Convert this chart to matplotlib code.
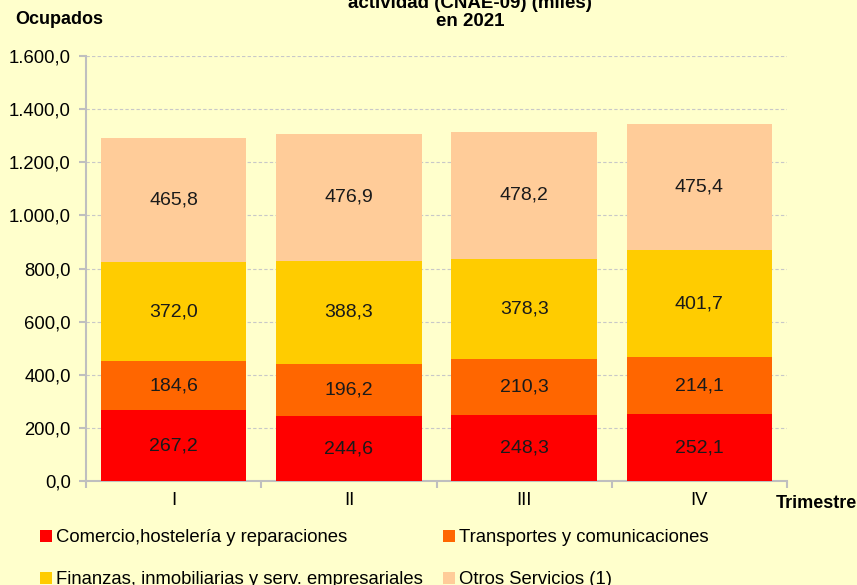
import matplotlib
matplotlib.use("Agg")
import matplotlib.pyplot as plt
from matplotlib.ticker import FuncFormatter
from matplotlib.patches import Patch
import numpy as np

plt.rcParams['font.family'] = ['Liberation Sans', 'DejaVu Sans']

trimestres = ["I", "II", "III", "IV"]
series = ["Comercio,hostelería y reparaciones",
          "Transportes y comunicaciones",
          "Finanzas, inmobiliarias y serv. empresariales",
          "Otros Servicios (1)"]
comercio = [267.2, 244.6, 248.3, 252.1]
transportes = [184.6, 196.2, 210.3, 214.1]
finanzas = [372.0, 388.3, 378.3, 401.7]
otros = [465.8, 476.9, 478.2, 475.4]
colores = ["#FF0000", "#FF6600", "#FFCC00", "#FFCC99"]

bg = "#FFFFCC"
fig = plt.figure(figsize=(8.57, 5.85), dpi=100, facecolor=bg)
ax = fig.add_axes([86 / 857, 1 - 481 / 585, (787 - 86) / 857, (481 - 56) / 585])
ax.set_facecolor(bg)

x = np.arange(len(trimestres))
bottom = np.zeros(len(trimestres))
for vals, col in zip([comercio, transportes, finanzas, otros], colores):
    vals = np.array(vals)
    ax.bar(x, vals, width=0.83, bottom=bottom, color=col, zorder=3)
    for xi, b, v in zip(x, bottom, vals):
        ax.text(xi, b + v / 2, f"{v:.1f}".replace(".", ","), ha="center", va="center",
                fontsize=14, color="#1a1a1a", zorder=4)
    bottom += vals

ax.set_xlim(-0.5, 3.5)
ax.set_ylim(0, 1600)
ax.set_yticks(np.arange(0, 1601, 200))
ax.yaxis.set_major_formatter(FuncFormatter(
    lambda v, p: f"{v:,.1f}".replace(",", "X").replace(".", ",").replace("X", ".")))
ax.grid(axis="y", color="#c8c8c8", linestyle=(0, (3, 2)), linewidth=0.8, zorder=0)

ax.set_xticks(x)
ax.set_xticklabels(trimestres, fontsize=13.3)
ax.set_xticks(np.arange(-0.5, 3.6, 1), minor=True)
ax.tick_params(axis="x", which="major", length=0, pad=8)
ax.tick_params(axis="x", which="minor", length=5, color="#bfbfbf", width=1.5)
ax.tick_params(axis="y", length=5, color="#bfbfbf", width=1.5, labelsize=13.3, pad=6)
for s in ["top", "right"]:
    ax.spines[s].set_visible(False)
for s in ["left", "bottom"]:
    ax.spines[s].set_color("#bfbfbf")
    ax.spines[s].set_linewidth(1.5)

fig.text(15 / 857, 1 - 20 / 585, "Ocupados", fontsize=13, fontweight="bold", va="center")
fig.text(857 / 857, 1 - 503 / 585, "Trimestre", fontsize=13, fontweight="bold",
         va="center", ha="right")
fig.text(470 / 857, 1 - 4 / 585, "actividad (CNAE-09) (miles)", fontsize=13.5,
         fontweight="bold", va="center", ha="center")
fig.text(470 / 857, 1 - 21 / 585, "en 2021", fontsize=13.5, fontweight="bold",
         va="center", ha="center")

# matplotlib fills legend column-first; order so rows read like the reference
orden = [0, 2, 1, 3]
handles = [Patch(facecolor=colores[i], edgecolor="none") for i in orden]
labels = [series[i] for i in orden]
fig.legend(handles, labels, loc="upper left", bbox_to_anchor=(33 / 857, 1 - 522 / 585),
           ncol=2, frameon=False, fontsize=13.3, handlelength=0.65, handleheight=0.65,
           handletextpad=0.2, columnspacing=1.1, labelspacing=1.35, borderaxespad=0)

fig.savefig("out.png", dpi=100, facecolor=bg)
